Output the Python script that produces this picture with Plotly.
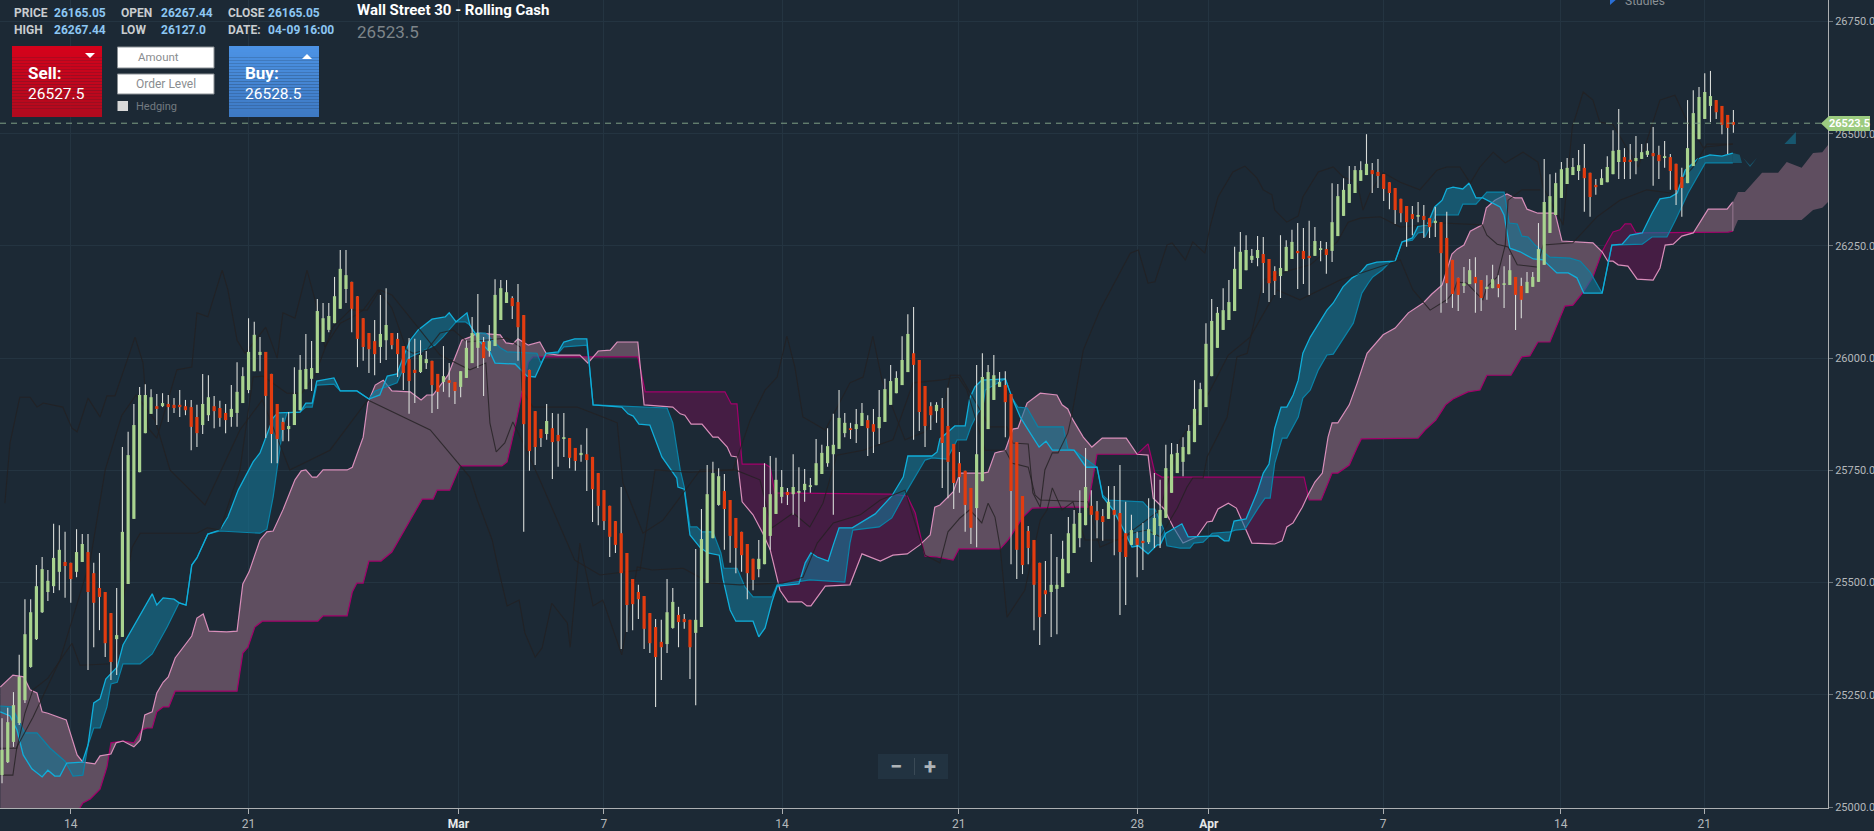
#!/usr/bin/env python3
"""Wall Street 30 candles with an Ichimoku style cloud, dark trading screen look."""

import numpy as np
import plotly.graph_objects as go

# candles, one per bar index
opens = [
    25071, 25100, 25145, 25187, 25238, 25312, 25374, 25434, 25479, 25492,
    25524, 25546, 25544, 25524, 25546, 25568, 25521, 25488, 25479, 25432,
    25374, 25379, 25497, 25642, 25746, 25833, 25876, 25893, 25893, 25898,
    25896, 25896, 25893, 25891, 25869, 25851, 25873, 25893, 25889, 25878,
    25869, 25878, 25900, 25929, 25971, 26007, 26014, 25965, 25898, 25858,
    25842, 25851, 25884, 25931, 25954, 25967, 26036, 26063, 26078, 26110,
    26154, 26170, 26138, 26089, 26056, 26038, 26025, 26040, 26056, 26043,
    26027, 25998, 25974, 25969, 25989, 25994, 25965, 25947, 25951, 25947,
    25936, 25956, 25989, 26023, 26036, 26016, 26027, 26085, 26123, 26134,
    26125, 26096, 25974, 25882, 25842, 25831, 25844, 25829, 25820, 25822,
    25800, 25784, 25786, 25780, 25744, 25706, 25671, 25637, 25610, 25566,
    25508, 25479, 25470, 25432, 25401, 25368, 25363, 25399, 25428, 25419,
    25417, 25388, 25401, 25499, 25599, 25673, 25704, 25684, 25644, 25613,
    25586, 25553, 25530, 25541, 25604, 25653, 25691, 25702, 25697, 25700,
    25706, 25713, 25717, 25742, 25766, 25786, 25798, 25833, 25844, 25842,
    25849, 25862, 25853, 25844, 25858, 25896, 25922, 25940, 25969, 26011,
    25996, 25938, 25893, 25882, 25889, 25849, 25809, 25766, 25749, 25711,
    25666, 25726, 25842, 25907, 25936, 25940, 25920, 25813, 25693, 25615,
    25595, 25544, 25483, 25479, 25486, 25490, 25521, 25566, 25599, 25628,
    25671, 25659, 25648, 25642, 25662, 25655, 25610, 25584, 25599, 25593,
    25590, 25606, 25626, 25644, 25700, 25744, 25769, 25786, 25813, 25851,
    25891, 25960, 26023, 26063, 26085, 26105, 26154, 26196, 26219, 26223,
    26232, 26221, 26194, 26183, 26194, 26221, 26239, 26239, 26228, 26228,
    26241, 26243, 26239, 26272, 26317, 26346, 26368, 26395, 26408, 26419,
    26415, 26410, 26392, 26379, 26355, 26339, 26321, 26315, 26317, 26312,
    26301, 26303, 26268, 26219, 26179, 26161, 26165, 26181, 26174, 26154,
    26156, 26165, 26163, 26163, 26181, 26161, 26145, 26159, 26170, 26208,
    26279, 26319, 26357, 26388, 26408, 26417, 26424, 26413, 26386, 26386,
    26392, 26410, 26437, 26448, 26442, 26439, 26444, 26453, 26457, 26453,
    26446, 26448, 26433, 26404, 26390, 26428, 26488, 26533, 26562, 26575,
    26562, 26542, 26526,
]
closes = [
    25127, 25189, 25227, 25290, 25385, 25434, 25492, 25530, 25504, 25555,
    25573, 25537, 25508, 25568, 25586, 25479, 25455, 25468, 25365, 25323,
    25383, 25613, 25784, 25851, 25918, 25918, 25913, 25887, 25900, 25891,
    25889, 25891, 25884, 25847, 25833, 25898, 25913, 25882, 25867, 25862,
    25887, 25925, 25960, 26014, 26052, 26014, 25916, 25831, 25820, 25840,
    25849, 25920, 25974, 25976, 25978, 26105, 26089, 26094, 26138, 26199,
    26185, 26110, 26043, 26025, 26020, 26009, 26054, 26074, 26029, 26009,
    25967, 25949, 25967, 26007, 25998, 25940, 25925, 25960, 25945, 25927,
    25971, 26023, 26056, 26056, 26000, 26038, 26141, 26156, 26147, 26116,
    26069, 25853, 25793, 25802, 25822, 25860, 25813, 25815, 25824, 25778,
    25771, 25789, 25773, 25708, 25671, 25637, 25602, 25584, 25521, 25450,
    25452, 25463, 25397, 25365, 25334, 25356, 25434, 25457, 25412, 25412,
    25356, 25417, 25597, 25697, 25744, 25737, 25664, 25604, 25577, 25561,
    25521, 25506, 25553, 25668, 25697, 25729, 25713, 25695, 25713, 25704,
    25720, 25717, 25766, 25789, 25804, 25807, 25867, 25856, 25840, 25853,
    25878, 25844, 25836, 25869, 25931, 25949, 25956, 25996, 26054, 25985,
    25880, 25849, 25873, 25896, 25811, 25769, 25722, 25735, 25673, 25622,
    25786, 25958, 25969, 25962, 25947, 25902, 25704, 25573, 25539, 25577,
    25495, 25423, 25474, 25495, 25495, 25553, 25610, 25631, 25655, 25713,
    25651, 25639, 25635, 25680, 25651, 25568, 25557, 25617, 25584, 25588,
    25619, 25644, 25662, 25755, 25786, 25789, 25802, 25838, 25887, 25931,
    26032, 26083, 26101, 26107, 26125, 26199, 26237, 26241, 26228, 26241,
    26212, 26167, 26172, 26201, 26248, 26259, 26234, 26221, 26223, 26261,
    26245, 26230, 26303, 26361, 26375, 26388, 26419, 26419, 26433, 26410,
    26406, 26377, 26368, 26330, 26323, 26303, 26310, 26319, 26308, 26292,
    26306, 26234, 26167, 26143, 26141, 26167, 26196, 26167, 26134, 26159,
    26176, 26156, 26167, 26196, 26141, 26130, 26170, 26181, 26243, 26348,
    26361, 26390, 26421, 26424, 26426, 26430, 26401, 26359, 26381, 26401,
    26426, 26462, 26464, 26437, 26437, 26446, 26459, 26462, 26450, 26439,
    26450, 26417, 26375, 26379, 26468, 26546, 26582, 26593, 26584, 26548,
    26520, 26513, 26520,
]
highs = [
    25198, 25221, 25256, 25339, 25463, 25463, 25539, 25557, 25528, 25631,
    25628, 25613, 25544, 25619, 25608, 25608, 25544, 25566, 25479, 25432,
    25488, 25802, 25836, 25898, 25936, 25942, 25931, 25920, 25922, 25918,
    25911, 25929, 25907, 25907, 25896, 25965, 25962, 25916, 25905, 25898,
    25940, 25991, 25980, 26089, 26081, 26047, 26014, 25965, 25898, 25867,
    25880, 25980, 26007, 26054, 26038, 26132, 26123, 26123, 26181, 26241,
    26241, 26170, 26138, 26089, 26056, 26085, 26141, 26156, 26056, 26056,
    26027, 26045, 26043, 26040, 26016, 25994, 25965, 26027, 25989, 25947,
    25971, 26040, 26092, 26143, 26047, 26074, 26176, 26174, 26174, 26138,
    26165, 26096, 25974, 25882, 25842, 25898, 25878, 25876, 25878, 25822,
    25800, 25807, 25844, 25780, 25744, 25706, 25671, 25637, 25713, 25566,
    25508, 25495, 25470, 25432, 25419, 25417, 25508, 25488, 25446, 25430,
    25417, 25575, 25664, 25762, 25769, 25755, 25742, 25684, 25644, 25613,
    25586, 25553, 25595, 25766, 25782, 25778, 25751, 25711, 25786, 25757,
    25753, 25733, 25820, 25807, 25844, 25876, 25929, 25878, 25856, 25887,
    25900, 25873, 25887, 25929, 25954, 25985, 25971, 26049, 26098, 26114,
    25996, 25938, 25902, 25902, 25911, 25934, 25809, 25791, 25749, 25711,
    25985, 26011, 25985, 26007, 25969, 25971, 25920, 25813, 25693, 25626,
    25595, 25544, 25548, 25608, 25557, 25593, 25646, 25662, 25706, 25800,
    25706, 25682, 25664, 25715, 25715, 25762, 25680, 25651, 25613, 25633,
    25688, 25744, 25729, 25807, 25811, 25809, 25824, 25851, 25951, 25945,
    26078, 26132, 26114, 26156, 26174, 26248, 26281, 26274, 26243, 26272,
    26270, 26221, 26205, 26274, 26263, 26286, 26301, 26290, 26306, 26292,
    26261, 26259, 26390, 26388, 26401, 26428, 26428, 26439, 26499, 26435,
    26444, 26410, 26392, 26379, 26355, 26339, 26339, 26348, 26341, 26312,
    26337, 26303, 26326, 26219, 26179, 26203, 26221, 26225, 26174, 26185,
    26208, 26185, 26205, 26230, 26181, 26179, 26192, 26192, 26301, 26444,
    26410, 26413, 26437, 26446, 26446, 26464, 26477, 26413, 26399, 26421,
    26450, 26508, 26555, 26468, 26477, 26495, 26477, 26479, 26515, 26473,
    26484, 26455, 26433, 26424, 26575, 26597, 26604, 26635, 26640, 26575,
    26562, 26542, 26553,
]
lows = [
    25053, 25098, 25134, 25183, 25232, 25310, 25372, 25432, 25459, 25477,
    25483, 25466, 25455, 25512, 25546, 25305, 25356, 25394, 25334, 25283,
    25294, 25379, 25497, 25642, 25746, 25833, 25876, 25851, 25891, 25858,
    25878, 25869, 25873, 25795, 25802, 25831, 25860, 25844, 25847, 25833,
    25847, 25847, 25900, 25922, 25971, 25971, 25822, 25766, 25766, 25815,
    25815, 25851, 25884, 25931, 25927, 25967, 26036, 26058, 26078, 26110,
    26123, 26058, 25980, 25994, 25967, 25962, 25989, 25996, 26020, 25958,
    25929, 25876, 25900, 25967, 25976, 25878, 25887, 25925, 25913, 25898,
    25913, 25956, 25989, 25978, 25916, 26003, 26027, 26085, 26123, 26087,
    25994, 25613, 25749, 25762, 25802, 25818, 25731, 25758, 25780, 25755,
    25749, 25769, 25704, 25635, 25628, 25617, 25557, 25566, 25352, 25390,
    25394, 25419, 25352, 25343, 25223, 25283, 25343, 25397, 25356, 25397,
    25285, 25227, 25401, 25499, 25599, 25671, 25573, 25544, 25521, 25524,
    25463, 25483, 25512, 25541, 25573, 25653, 25677, 25673, 25651, 25624,
    25680, 25700, 25717, 25742, 25758, 25651, 25798, 25824, 25820, 25811,
    25849, 25782, 25789, 25809, 25858, 25896, 25922, 25940, 25969, 25818,
    25838, 25802, 25840, 25856, 25711, 25688, 25664, 25700, 25613, 25586,
    25579, 25726, 25842, 25907, 25936, 25824, 25541, 25508, 25519, 25541,
    25394, 25361, 25430, 25379, 25385, 25490, 25521, 25566, 25579, 25628,
    25546, 25599, 25593, 25642, 25561, 25428, 25450, 25584, 25512, 25528,
    25586, 25577, 25577, 25644, 25700, 25744, 25737, 25786, 25813, 25851,
    25891, 25960, 26023, 26063, 26085, 26105, 26154, 26196, 26212, 26205,
    26145, 26125, 26141, 26134, 26194, 26221, 26154, 26165, 26141, 26228,
    26216, 26188, 26214, 26272, 26317, 26346, 26368, 26395, 26408, 26368,
    26379, 26350, 26332, 26299, 26303, 26248, 26274, 26303, 26268, 26268,
    26270, 26101, 26123, 26112, 26105, 26145, 26165, 26101, 26105, 26130,
    26156, 26136, 26112, 26163, 26063, 26089, 26145, 26159, 26170, 26208,
    26279, 26319, 26357, 26388, 26408, 26397, 26326, 26315, 26364, 26386,
    26392, 26410, 26399, 26399, 26399, 26410, 26444, 26448, 26384, 26399,
    26424, 26375, 26341, 26315, 26390, 26428, 26488, 26533, 26526, 26533,
    26499, 26455, 26502,
]

# cloud, leading span A (pink line)
span_a_x = [
    -0.3, 1.4, 1.9, 3.8, 4.9, 6.1, 7.0, 8.0, 10.1, 11.2, 13.1, 14.1, 16.2, 17.1, 19.0, 19.9,
    21.1, 23.0, 24.1, 24.9, 26.2, 27.0, 28.1, 29.0, 30.2, 33.1, 34.0, 35.1, 36.1, 39.2, 41.0, 42.0,
    43.1, 45.0, 46.2, 47.3, 49.0, 51.1, 52.2, 53.0, 54.1, 54.9, 56.0, 60.2, 61.1, 63.0, 63.8, 65.1,
    66.5, 68.0, 71.2, 73.1, 74.1, 75.2, 77.8, 80.2, 81.6, 83.0, 86.9, 87.9, 89.1, 90.0, 91.8, 93.8,
    94.9, 97.0, 100.8, 102.2, 104.0, 106.1, 107.3, 110.9, 112.0, 117.0, 118.3, 119.1, 120.2, 122.1, 124.0, 124.9,
    126.5, 127.2, 128.2, 129.1, 131.0, 132.7, 134.0, 135.7, 137.1, 139.5, 140.4, 141.1, 143.6, 147.9, 150.0, 153.2,
    155.4, 157.9, 160.1, 161.9, 162.7, 163.6, 165.9, 167.1, 171.1, 172.0, 173.2, 175.0, 176.3, 177.2, 178.8, 181.1,
    184.0, 184.9, 185.9, 186.6, 188.6, 190.1, 191.9, 196.1, 198.0, 199.9, 200.8, 202.7, 204.3, 206.0, 208.4, 210.2,
    211.1, 212.1, 213.9, 215.3, 218.0, 222.0, 223.3, 224.1, 225.2, 226.8, 227.8, 229.0, 230.3, 231.3, 232.0, 233.0,
    235.0, 236.4, 238.1, 240.9, 243.0, 245.3, 247.9, 249.4, 251.2, 252.9, 253.8, 255.0, 256.1, 258.2, 258.9, 260.4,
    262.5, 263.9, 265.1, 266.0, 267.9, 270.9, 272.1, 277.5, 279.1, 280.1, 281.0, 281.9, 283.6, 285.2, 288.0, 289.2,
    290.1, 291.5, 293.0, 295.0, 297.6, 300.9, 301.9,
]
span_a_y = [
    25267, 25287, 25294, 25290, 25261, 25254, 25212, 25209, 25198, 25194, 25116, 25100, 25096, 25114, 25118, 25143,
    25147, 25134, 25149, 25205, 25212, 25254, 25278, 25290, 25332, 25381, 25421, 25430, 25392, 25390, 25392, 25497,
    25524, 25595, 25613, 25615, 25662, 25729, 25749, 25751, 25735, 25735, 25751, 25751, 25757, 25824, 25900, 25940,
    25951, 25927, 25925, 25907, 25918, 25918, 25962, 26040, 26047, 26056, 26052, 26034, 26032, 26043, 26029, 26036,
    26011, 26007, 26007, 25989, 26016, 26018, 26036, 26036, 25896, 25891, 25876, 25873, 25853, 25853, 25824, 25824,
    25802, 25782, 25780, 25680, 25651, 25610, 25573, 25483, 25457, 25457, 25448, 25448, 25492, 25495, 25564, 25548,
    25561, 25564, 25584, 25606, 25668, 25673, 25702, 25744, 25744, 25746, 25789, 25795, 25842, 25844, 25900, 25922,
    25918, 25896, 25887, 25867, 25824, 25802, 25822, 25822, 25786, 25784, 25688, 25664, 25624, 25588, 25602, 25635,
    25637, 25664, 25677, 25666, 25588, 25586, 25593, 25624, 25633, 25668, 25695, 25724, 25744, 25824, 25856, 25856,
    25896, 25945, 26011, 26052, 26067, 26101, 26123, 26143, 26163, 26232, 26243, 26252, 26283, 26297, 26335, 26352,
    26366, 26357, 26357, 26332, 26323, 26323, 26261, 26257, 26237, 26216, 26216, 26208, 26205, 26176, 26174, 26201,
    26252, 26254, 26272, 26279, 26332, 26332, 26348,
]

# cloud, leading span B (magenta line)
span_b_x = [
    -0.3, 10.1, 13.6, 14.1, 15.4, 17.1, 18.3, 19.0, 21.1, 23.0, 24.4, 25.3, 26.2, 27.0, 28.1, 29.1,
    30.2, 41.0, 42.0, 42.9, 44.1, 45.4, 55.1, 56.0, 60.2, 61.1, 61.9, 63.0, 64.0, 66.1, 68.0, 73.3,
    75.2, 75.9, 78.1, 79.9, 87.2, 88.1, 89.5, 90.7, 91.8, 92.6, 110.9, 112.2, 126.1, 127.2, 128.2, 129.1,
    133.1, 134.0, 134.8, 154.9, 157.9, 159.3, 161.0, 163.1, 165.9, 166.9, 174.1, 175.5, 176.3, 178.1, 179.7, 184.6,
    189.4, 191.0, 198.0, 199.9, 201.1, 202.3, 227.1, 228.0, 230.1, 232.0, 233.0, 235.0, 236.4, 237.1, 247.0, 248.2,
    250.1, 251.8, 253.1, 255.7, 257.8, 259.0, 263.2, 265.1, 266.5, 267.9, 270.0, 271.8, 272.6, 274.0, 275.8, 277.5,
    279.1, 280.0, 281.0, 282.2, 283.1, 284.1, 285.0, 301.1, 301.9,
]
span_b_y = [
    24904, 24949, 24998, 25009, 25018, 25040, 25089, 25143, 25147, 25143, 25172, 25176, 25176, 25212, 25223, 25223,
    25258, 25258, 25343, 25356, 25401, 25414, 25414, 25426, 25426, 25479, 25499, 25499, 25548, 25548, 25568, 25686,
    25686, 25706, 25706, 25760, 25760, 25769, 25847, 25922, 25991, 26003, 26003, 25925, 25925, 25898, 25898, 25764,
    25764, 25757, 25700, 25697, 25693, 25655, 25559, 25557, 25550, 25575, 25575, 25595, 25610, 25646, 25666, 25668,
    25668, 25786, 25786, 25809, 25744, 25735, 25735, 25684, 25684, 25744, 25744, 25762, 25802, 25820, 25822, 25840,
    25862, 25896, 25909, 25925, 25929, 25962, 25962, 26003, 26005, 26036, 26036, 26092, 26116, 26118, 26147, 26181,
    26237, 26259, 26281, 26286, 26299, 26299, 26279, 26281, 26283,
]

# projected cloud past the last bar, drawn without edge lines
future_top_x = [301.9, 302.8, 304.0, 307.0, 309.8, 311.3, 313.9, 315.9, 317.5, 318.5]
future_top_y = [26348, 26370, 26370, 26413, 26413, 26437, 26424, 26457, 26459, 26475]
future_bot_x = [301.9, 302.8, 313.9, 315.9, 317.5, 318.5]
future_bot_y = [26281, 26308, 26308, 26330, 26335, 26348]

# bars where the two spans swap over, mauve first then purple in turn
cloud_breaks = [-0.3, 111.5, 160.3, 198.0, 227.6, 279.1, 295.0, 301.9]

# blue band, bright edge
band_hi_x = [
    -0.3, 1.4, 2.6, 3.7, 5.2, 7.0, 8.0, 9.2, 10.1, 11.3, 14.0, 15.0, 16.0, 17.1, 18.1, 20.1,
    21.1, 22.9, 25.3, 26.2, 27.0, 28.1, 30.0, 30.9, 32.1, 33.1, 34.0, 35.9, 38.0, 39.4, 41.2, 43.8,
    45.0, 46.2, 47.3, 48.1, 52.0, 53.0, 54.1, 54.9, 57.9, 59.0, 61.9, 64.0, 65.9, 67.2, 68.9, 69.9,
    71.2, 72.6, 75.0, 77.3, 78.0, 79.2, 81.1, 81.6, 83.4, 85.1, 86.0, 89.5, 91.6, 93.0, 94.9, 97.0,
    98.0, 99.9, 102.0, 102.4, 103.1, 108.1, 109.2, 110.1, 111.1, 113.0, 113.9, 115.1, 117.7, 117.9, 119.0, 120.0,
    121.7, 123.1, 125.1, 125.8, 127.0, 128.0, 131.0, 132.0, 133.1, 134.3, 135.2, 139.0, 140.1, 141.1, 142.2, 144.1,
    145.0, 146.0, 148.3, 152.3, 155.2, 157.2, 158.0, 162.2, 163.1, 163.6, 166.2, 168.0, 168.8, 169.7, 170.9, 175.0,
    176.2, 177.6, 178.8, 180.9, 182.1, 183.2, 187.0, 189.1, 191.0, 192.0, 193.8, 195.4, 197.1, 198.2, 199.9, 201.5,
    202.0, 203.0, 205.8, 206.9, 212.1, 213.2, 214.0, 214.9, 217.0, 218.9, 220.0, 221.0, 222.0, 223.1, 224.1, 225.2,
    226.1, 226.9, 228.2, 229.0, 231.1, 232.2, 233.9, 235.5, 236.9, 238.1, 239.8, 243.0, 244.2, 246.0, 247.0, 248.6,
    249.9, 251.2, 252.0, 253.1, 254.8, 255.9, 257.1, 258.3, 260.1, 261.3, 262.0, 263.0, 264.8, 267.1, 268.8, 271.2,
    273.2, 274.7, 275.9, 279.1, 280.8, 282.6, 284.0, 286.1, 287.8, 289.2, 291.0, 292.2, 293.6, 295.8, 297.9, 300.0,
    301.9,
]
band_hi_y = [
    25212, 25203, 25172, 25116, 25085, 25067, 25082, 25069, 25069, 25098, 25100, 25138, 25232, 25241, 25285, 25312,
    25361, 25401, 25457, 25475, 25450, 25466, 25463, 25455, 25450, 25539, 25555, 25608, 25617, 25646, 25706, 25769,
    25789, 25829, 25867, 25878, 25880, 25900, 25900, 25949, 25956, 25927, 25927, 25909, 25918, 25960, 25965, 26000,
    26040, 26063, 26087, 26092, 26101, 26081, 26101, 26074, 26036, 26014, 25989, 25987, 25960, 25958, 26011, 26014,
    26036, 26043, 26043, 25991, 25896, 25891, 25876, 25871, 25853, 25851, 25822, 25780, 25733, 25713, 25708, 25606,
    25579, 25566, 25561, 25506, 25439, 25414, 25414, 25379, 25399, 25457, 25492, 25497, 25544, 25566, 25557, 25548,
    25584, 25622, 25622, 25653, 25693, 25735, 25782, 25782, 25791, 25820, 25849, 25849, 25911, 25936, 25951, 25954,
    25911, 25869, 25844, 25802, 25815, 25795, 25795, 25757, 25757, 25691, 25662, 25624, 25579, 25582, 25564, 25584,
    25584, 25610, 25631, 25602, 25604, 25593, 25593, 25637, 25642, 25700, 25744, 25764, 25844, 25891, 25891, 25918,
    25951, 26011, 26047, 26063, 26107, 26123, 26159, 26179, 26190, 26208, 26214, 26216, 26259, 26268, 26294, 26297,
    26337, 26352, 26377, 26381, 26377, 26390, 26357, 26357, 26346, 26337, 26319, 26245, 26237, 26221, 26219, 26190,
    26190, 26179, 26145, 26145, 26252, 26254, 26274, 26279, 26323, 26355, 26359, 26368, 26419, 26444, 26453, 26450,
    26457,
]

# blue band, darker edge
band_lo_x = [
    -0.3, 1.7, 4.0, 6.1, 8.4, 11.0, 12.4, 14.1, 15.0, 16.0, 17.1, 18.3, 19.0, 20.1, 21.1, 24.1,
    26.2, 28.8, 30.9, 32.1, 33.1, 34.0, 35.9, 38.0, 45.0, 46.2, 47.3, 49.0, 49.7, 52.0, 53.0, 54.1,
    54.9, 57.9, 59.0, 61.9, 64.0, 65.1, 68.9, 70.8, 75.5, 76.9, 79.2, 80.8, 81.6, 82.5, 84.3, 86.9,
    88.1, 93.3, 94.0, 94.9, 97.0, 98.0, 102.0, 102.4, 103.1, 116.0, 117.0, 118.3, 119.0, 120.0, 121.2, 122.1,
    124.0, 125.4, 125.9, 128.2, 129.6, 131.0, 134.3, 135.2, 140.9, 147.0, 147.9, 148.4, 153.0, 155.2, 157.2, 159.6,
    161.0, 162.2, 164.8, 166.6, 168.2, 169.0, 170.2, 171.1, 171.5, 175.0, 176.2, 177.2, 178.8, 180.7, 185.1, 185.9,
    187.0, 191.0, 192.0, 192.9, 199.0, 200.1, 201.1, 202.7, 203.2, 205.5, 207.2, 207.9, 209.5, 211.1, 214.2, 215.1,
    216.8, 219.1, 220.3, 221.2, 222.0, 223.3, 224.1, 226.1, 226.9, 228.2, 229.6, 231.1, 232.2, 235.7, 237.2, 238.3,
    239.1, 240.7, 242.1, 243.0, 244.2, 246.0, 247.0, 247.9, 248.2, 250.1, 254.0, 254.8, 257.1, 259.0, 262.0, 262.9,
    264.3, 265.1, 266.2, 267.4, 270.0, 273.5, 275.3, 277.0, 279.1, 280.8, 286.1, 287.8, 290.4, 291.9, 294.1, 297.1,
    301.9,
]
band_lo_y = [
    25225, 25223, 25165, 25165, 25131, 25102, 25069, 25071, 25138, 25176, 25176, 25223, 25274, 25278, 25319, 25319,
    25341, 25401, 25455, 25450, 25539, 25555, 25608, 25615, 25610, 25619, 25691, 25847, 25878, 25880, 25891, 25891,
    25940, 25942, 25927, 25927, 25909, 25927, 25945, 26000, 26029, 26047, 26081, 26081, 26074, 26056, 26056, 26023,
    26014, 26011, 25989, 26011, 26011, 26025, 26029, 25991, 25896, 25889, 25856, 25751, 25713, 25624, 25624, 25613,
    25613, 25566, 25532, 25532, 25490, 25468, 25468, 25495, 25506, 25501, 25588, 25617, 25624, 25644, 25691, 25744,
    25773, 25778, 25775, 25818, 25818, 25847, 25878, 25891, 25929, 25954, 25911, 25891, 25889, 25847, 25847, 25798,
    25795, 25757, 25695, 25684, 25680, 25664, 25664, 25617, 25582, 25577, 25577, 25588, 25590, 25610, 25613, 25617,
    25619, 25666, 25688, 25688, 25766, 25822, 25822, 25869, 25911, 25929, 25974, 26007, 26009, 26078, 26145, 26167,
    26181, 26196, 26214, 26216, 26259, 26263, 26279, 26281, 26270, 26319, 26319, 26343, 26343, 26370, 26370, 26301,
    26299, 26272, 26270, 26252, 26225, 26223, 26216, 26192, 26145, 26252, 26254, 26270, 26270, 26308, 26368, 26435,
    26435,
]

# scraps of the band past the last bar
tail_x = [301.9, 303.1, 303.5, 301.9]
tail_y = [26457, 26453, 26435, 26435]
chevron_x = [303.7, 304.9, 306.1, 304.9]
chevron_y = [26446, 26430, 26446, 26426]
wedge_x = [310.9, 312.9, 312.9]
wedge_y = [26477, 26504, 26477]

# faint dark study lines
dark_a_x = [
    0.5, 1.4, 3.1, 4.9, 6.1, 7.2, 10.6, 12.2, 13.1, 15.0, 17.1, 18.3, 19.7, 23.2, 24.6, 25.5,
    27.0, 30.5, 33.1, 34.0, 35.9, 38.4, 39.4, 41.0, 42.4, 46.0, 48.0, 49.0, 51.1, 53.2, 54.6, 56.3,
    59.0, 61.2, 63.0, 65.6, 68.0, 70.6, 71.7, 74.1, 76.4, 78.7, 81.1, 88.1, 90.4, 90.7, 92.6, 100.3,
    104.8, 107.3, 108.3, 111.8, 115.3, 121.8, 127.5, 130.5, 133.1, 135.2, 136.9, 138.3, 139.7, 143.6, 147.9, 150.2,
    151.9, 153.5, 157.5, 161.0, 164.5, 165.4, 167.1, 168.3, 172.3, 175.3, 176.3, 179.0, 179.8, 181.1, 181.9, 183.2,
    184.2, 185.9, 186.6, 188.6, 191.5, 196.8, 198.2, 199.9, 201.1, 203.2, 204.1, 206.4, 207.7, 209.8, 210.7, 212.1,
    214.7, 216.8, 218.9, 220.0, 221.5, 222.0, 224.1, 226.1, 226.9, 229.6, 232.2, 233.9, 236.4, 237.4, 238.6, 240.9,
    243.9, 247.3, 250.3, 252.0, 254.3, 256.1, 257.8, 260.1, 262.2, 265.3, 267.9, 268.8, 272.3, 273.9, 275.8, 277.5,
    278.7, 281.0, 285.4, 289.2, 291.8, 293.6, 296.7, 301.9,
]
dark_a_y = [
    25677, 25811, 25913, 25913, 25891, 25900, 25891, 25844, 25836, 25911, 25869, 25916, 25916, 26047, 25989, 25844,
    25822, 25974, 25980, 26101, 26092, 26196, 26152, 26040, 26011, 26069, 26000, 26101, 26089, 26196, 26130, 26025,
    26078, 26092, 26107, 26152, 26112, 26018, 26011, 26018, 26056, 26063, 26036, 26045, 26025, 25929, 25891, 25891,
    25869, 25856, 25722, 25610, 25639, 25751, 25751, 25862, 25929, 25958, 26049, 25980, 25869, 25840, 25945, 25958,
    26049, 25951, 25818, 25836, 25907, 25962, 25962, 25936, 25847, 25847, 25811, 25809, 25700, 25668, 25751, 25789,
    25789, 25833, 25873, 26018, 26107, 26234, 26241, 26167, 26170, 26252, 26257, 26219, 26259, 26234, 26292, 26359,
    26415, 26428, 26401, 26375, 26364, 26330, 26303, 26317, 26359, 26415, 26426, 26404, 26390, 26330, 26368, 26413,
    26392, 26375, 26419, 26426, 26426, 26390, 26426, 26459, 26435, 26459, 26437, 26381, 26297, 26515, 26593, 26575,
    26526, 26520, 26426, 26575, 26586, 26537, 26470, 26477,
]
dark_b_x = [
    -0.3, 2.6, 4.0, 5.4, 8.0, 12.2, 13.6, 19.2, 22.7, 24.1, 34.0, 35.8, 38.0, 41.5, 43.8, 45.5,
    49.7, 52.3, 54.6, 57.7, 60.7, 63.7, 65.9, 68.0, 72.9, 76.4, 81.6, 84.4, 85.1, 86.2, 87.7, 89.1,
    90.9, 93.8, 99.9, 104.3, 111.3, 113.9, 120.0, 127.9, 132.2, 134.3, 138.0, 140.9, 143.2, 145.6, 150.2, 155.4,
    158.9, 163.6, 166.8, 168.3, 171.5, 175.0, 176.2, 179.0, 180.2, 181.1, 189.4, 191.5, 197.1, 199.7, 202.0, 205.0,
    206.7, 207.7, 209.5, 210.2, 213.7, 215.4, 217.2, 220.0, 224.7, 228.2, 232.9, 234.8, 236.9, 240.4, 243.9, 251.2,
    258.2, 259.0, 260.8, 262.7, 264.3, 267.8, 268.8, 274.0, 278.2, 282.2, 286.9, 291.0, 295.0, 297.4, 301.9,
]
dark_b_y = [
    25131, 25131, 25209, 25261, 25287, 25365, 25316, 25319, 25579, 25610, 25610, 25622, 25617, 25751, 25958, 25960,
    25922, 25922, 25962, 26069, 26107, 26107, 26152, 26141, 26063, 26007, 25974, 25989, 25856, 25791, 25811, 25858,
    25811, 25729, 25550, 25517, 25528, 25751, 25746, 25751, 25729, 25622, 25655, 25624, 25677, 25784, 25795, 25818,
    25945, 25951, 25958, 25929, 25795, 25795, 25766, 25757, 25695, 25684, 25680, 25579, 25610, 25617, 25602, 25666,
    25713, 25733, 25733, 25780, 25869, 26003, 26011, 26174, 26196, 26208, 26259, 26303, 26312, 26315, 26292, 26301,
    26297, 26274, 26254, 26248, 26208, 26203, 26252, 26257, 26315, 26352, 26375, 26368, 26426, 26477, 26477,
]
dark_c_x = [
    -0.3, 1.9, 2.6, 5.4, 10.1, 15.4, 18.0, 20.9, 23.4, 26.7, 29.3, 35.4, 41.5, 45.4, 50.2, 57.2,
    63.8, 74.7, 81.6, 82.9, 85.5, 86.5, 88.1, 90.2, 91.2, 93.0, 94.2, 95.9, 98.6, 99.1, 100.8, 103.1,
    104.8, 108.1, 110.8, 113.4, 118.8, 123.5, 128.7, 136.2, 139.7, 142.2, 145.0, 149.7, 153.2, 157.5, 161.0, 163.6,
    165.0, 167.1, 168.8, 170.9, 172.0, 173.2, 174.1, 175.3, 178.4, 181.1, 182.3, 183.2, 184.9, 186.8, 188.9, 195.0,
    202.0, 205.5, 209.0, 213.9, 217.7, 222.4, 226.4, 233.4, 243.9, 246.1, 249.1, 252.0, 253.1, 253.8, 255.5, 258.3,
    259.0, 260.8, 262.2, 262.7, 265.1, 268.3,
]
dark_c_y = [
    25071, 25071, 25134, 25200, 25327, 25550, 25751, 25873, 25918, 25862, 25751, 25673, 25840, 25907, 25751, 25795,
    25907, 25840, 25735, 25684, 25595, 25535, 25448, 25461, 25388, 25334, 25354, 25454, 25410, 25356, 25588, 25448,
    25461, 25339, 25535, 25528, 25532, 25499, 25495, 25499, 25512, 25588, 25633, 25651, 25684, 25706, 25561, 25544,
    25613, 25644, 25662, 25633, 25677, 25646, 25579, 25423, 25483, 25639, 25662, 25711, 25662, 25680, 25595, 25595,
    25662, 25818, 25885, 26007, 26047, 26152, 26130, 26174, 26219, 26152, 26107, 26130, 26145, 26170, 26167, 26130,
    26159, 26181, 26252, 26352, 26375, 26375,
]

last_price = 26523.5

# axes
price_ticks = [25000, 25250, 25500, 25750, 26000, 26250, 26500, 26750]
date_ticks = [12.0, 43.0, 79.6, 105.0, 136.05, 166.9, 198.0, 210.5, 240.9, 271.9, 296.9]
date_labels = ["14", "21", "Mar", "7", "14", "21", "28", "Apr", "7", "14", "21"]
x_range = [-0.35, 318.5]
y_range = [24997.8, 26798.0]

BG = "#1c2935"
GRID = "#243441"
MAUVE = "#5f4e60"
PURPLE = "#451d44"
TEAL_FILL = "rgba(20,118,150,0.6)"
GREEN = "#a9d38f"
RED = "#e23c10"
WICK = "#d8dbd8"
PLOT_W, PLOT_H = 1828, 808


def ui_x(px):
    return px / PLOT_W


def ui_y(py):
    return 1 - py / PLOT_H


def segments(xs, lo, hi):
    """x and y lists for a group of vertical strokes."""
    x, y = [], []
    for a, b, c in zip(xs, lo, hi):
        x += [a, a, None]
        y += [b, c, None]
    return x, y


def cloud_patch(x0, x1):
    """Closed outline between the two spans, from bar x0 to bar x1."""
    ax = np.array(span_a_x)
    ay = np.array(span_a_y)
    bx = np.array(span_b_x)
    by = np.array(span_b_y)
    inner_a = (ax > x0) & (ax < x1)
    inner_b = (bx > x0) & (bx < x1)
    top_x = [x0] + ax[inner_a].tolist() + [x1]
    top_y = [np.interp(x0, ax, ay)] + ay[inner_a].tolist() + [np.interp(x1, ax, ay)]
    low_x = [x0] + bx[inner_b].tolist() + [x1]
    low_y = [np.interp(x0, bx, by)] + by[inner_b].tolist() + [np.interp(x1, bx, by)]
    return top_x + low_x[::-1], top_y + low_y[::-1]


def fill_shape(fig, x, y, color):
    fig.add_trace(go.Scatter(x=x, y=y, mode="lines", fill="toself", fillcolor=color,
                             line=dict(width=0), hoverinfo="skip"))


fig = go.Figure()

# cloud fills
for k in range(len(cloud_breaks) - 1):
    px, py = cloud_patch(cloud_breaks[k], cloud_breaks[k + 1])
    fill_shape(fig, px, py, MAUVE if k % 2 == 0 else PURPLE)
fill_shape(fig, future_top_x + future_bot_x[::-1], future_top_y + future_bot_y[::-1], MAUVE)

fig.add_trace(go.Scatter(x=span_b_x, y=span_b_y, mode="lines",
                         line=dict(color="#a3006b", width=1.2), hoverinfo="skip"))
fig.add_trace(go.Scatter(x=span_a_x, y=span_a_y, mode="lines",
                         line=dict(color="#d98fbb", width=1.2), hoverinfo="skip"))
# the spans are closed off where the bars stop
fig.add_trace(go.Scatter(x=[span_a_x[-1], span_b_x[-1]], y=[span_a_y[-1], span_b_y[-1]], mode="lines",
                         line=dict(color="#9a7a92", width=1), hoverinfo="skip"))

# blue band
fill_shape(fig, band_hi_x + band_lo_x[::-1], band_hi_y + band_lo_y[::-1], TEAL_FILL)
fill_shape(fig, tail_x, tail_y, TEAL_FILL)
fill_shape(fig, chevron_x, chevron_y, TEAL_FILL)
fill_shape(fig, wedge_x, wedge_y, TEAL_FILL)
fig.add_trace(go.Scatter(x=band_lo_x, y=band_lo_y, mode="lines",
                         line=dict(color="#0a83a8", width=1.2), hoverinfo="skip"))
fig.add_trace(go.Scatter(x=band_hi_x, y=band_hi_y, mode="lines",
                         line=dict(color="#10aeda", width=1.3), hoverinfo="skip"))

# study lines
for sx, sy in [(dark_a_x, dark_a_y), (dark_b_x, dark_b_y), (dark_c_x, dark_c_y)]:
    fig.add_trace(go.Scatter(x=sx, y=sy, mode="lines",
                             line=dict(color="rgba(35,32,34,0.8)", width=1.1),
                             hoverinfo="skip"))

# candles, wicks first then bodies
bars = list(range(len(opens)))
wx, wy = segments(bars, lows, highs)
fig.add_trace(go.Scatter(x=wx, y=wy, mode="lines", line=dict(color=WICK, width=1.1),
                         hoverinfo="skip"))
up = [i for i in bars if closes[i] >= opens[i]]
down = [i for i in bars if closes[i] < opens[i]]
ux, uy = segments(up, [opens[i] for i in up], [closes[i] for i in up])
dx, dy = segments(down, [closes[i] for i in down], [opens[i] for i in down])
fig.add_trace(go.Scatter(x=ux, y=uy, mode="lines", line=dict(color=GREEN, width=3.2),
                         hoverinfo="skip"))
fig.add_trace(go.Scatter(x=dx, y=dy, mode="lines", line=dict(color=RED, width=3.2),
                         hoverinfo="skip"))

# last price line
fig.add_trace(go.Scatter(x=x_range, y=[last_price, last_price], mode="lines",
                         line=dict(color="#7f9f86", width=1, dash="6px,5px"), hoverinfo="skip"))

shapes = []
annotations = []


def box(x0, y0, x1, y1, color, line=None):
    shapes.append(dict(type="rect", xref="paper", yref="paper", x0=ui_x(x0), x1=ui_x(x1),
                       y0=ui_y(y0), y1=ui_y(y1), fillcolor=color, layer="above",
                       line=dict(width=1 if line else 0, color=line or color)))


def shaded_box(x0, y0, x1, y1, top, bottom, strips=24):
    """Button face, the vertical gradient is built from thin strips."""
    c0, c1 = np.array(top), np.array(bottom)
    edges = np.linspace(y0, y1, strips + 1)
    for n in range(strips):
        r, g, b = (c0 + (c1 - c0) * n / (strips - 1)).round().astype(int)
        box(x0, edges[n], x1, edges[n + 1], f"rgb({r},{g},{b})")


def poly(points, color):
    path = "M " + " L ".join(f"{ui_x(a):.5f} {ui_y(b):.5f}" for a, b in points) + " Z"
    shapes.append(dict(type="path", xref="paper", yref="paper", path=path, fillcolor=color,
                       line=dict(width=0), layer="above"))


def label(x, y, text, size=12, color="#c9cdd0", anchor="left", bold=False):
    annotations.append(dict(xref="paper", yref="paper", x=ui_x(x), y=ui_y(y), text=f"<b>{text}</b>" if bold else text,
                            showarrow=False, xanchor=anchor, yanchor="middle", borderpad=0,
                            font=dict(family="Roboto", size=size, color=color)))


VALUE = "#8cc6f2"
for x, y, name in [(13, 13, "PRICE"), (120, 13, "OPEN"), (227, 13, "CLOSE"),
                   (13, 30, "HIGH"), (120, 30, "LOW"), (227, 30, "DATE:")]:
    label(x, y, name, bold=True)
for x, y, val in [(53, 13, "26165.05"), (160, 13, "26267.44"), (267, 13, "26165.05"),
                  (53, 30, "26267.44"), (160, 30, "26127.0"), (267, 30, "04-09 16:00")]:
    label(x, y, val, color=VALUE, bold=True)

label(356, 10, "Wall Street 30 - Rolling Cash", size=15, color="#ffffff", bold=True)
label(356, 32, "26523.5", size=17, color="#7d8489")

# order widgets
shaded_box(12, 46, 102, 117, (212, 2, 27), (178, 10, 30))
shaded_box(229, 46, 319, 117, (76, 146, 228), (62, 122, 196))
box(117.5, 47, 214, 68, "#ffffff", "#8a9095")
box(117.5, 74, 214, 94, "#ffffff", "#8a9095")
box(117.5, 101, 128, 111, "#d8d8d8")
poly([(85, 53), (95, 53), (90, 58)], "#ffffff")
poly([(302, 59), (312, 59), (307, 54)], "#ffffff")
label(27, 73, "Sell:", size=17, color="#ffffff", bold=True)
label(27, 94, "26527.5", size=15.5, color="#ffffff")
label(244, 73, "Buy:", size=17, color="#ffffff", bold=True)
label(244, 94, "26528.5", size=15.5, color="#ffffff")
label(158.5, 57, "Amount", size=11.5, color="#8a8d90", anchor="center")
label(166, 84, "Order Level", size=12, color="#8a8d90", anchor="center")
label(135, 106, "Hedging", size=11, color="#737a80")

# studies menu, cut off by the top of the window
poly([(1610, -2), (1618, -2), (1610, 5)], "#2a6fd6")
label(1624, 1, "Studies", size=12, color="#8b9196")

# price tag
poly([(1821, 123.5), (1829, 116), (1870, 116), (1870, 131), (1829, 131)], "#9ccb80")
label(1849.5, 123.5, "26523.5", size=11, color="#ffffff", anchor="center", bold=True)

# zoom control
box(878, 754, 948, 779, "#223341")
box(914, 758, 915, 775, "#3a4a56")
label(895.5, 766, "−", size=22, color="#aeb4b8", anchor="center", bold=True)
label(930, 766, "+", size=22, color="#aeb4b8", anchor="center", bold=True)

tick_text = [f'<span style="color:#e6e8e9"><b>{t}</b></span>' if t in ("Mar", "Apr") else t
             for t in date_labels]

fig.update_layout(
    width=1874, height=831,
    margin=dict(l=0, r=46, t=0, b=23),
    paper_bgcolor=BG, plot_bgcolor=BG,
    showlegend=False,
    shapes=shapes, annotations=annotations,
    font=dict(family="Roboto"),
    xaxis=dict(range=x_range, tickvals=date_ticks, ticktext=tick_text, showgrid=True,
               gridcolor=GRID, gridwidth=1, zeroline=False, showline=True, linecolor="#adb0b2",
               linewidth=1, ticks="outside", ticklen=5, tickcolor="#adb0b2",
               tickfont=dict(family="Roboto", size=12, color="#b4b8bb")),
    yaxis=dict(range=y_range, side="right", tickvals=price_ticks,
               ticktext=[f"{p:.1f}" for p in price_ticks], showgrid=True, gridcolor=GRID,
               gridwidth=1, zeroline=False, showline=True, linecolor="#adb0b2", linewidth=1,
               ticks="outside", ticklen=4, tickcolor="#6d767c",
               tickfont=dict(family="Roboto", size=11, color="#b4b8bb")),
)

fig.write_html("out.html", config={"displayModeBar": False},
               post_script="document.body.style.margin='0';document.body.style.background='#1c2935';")
